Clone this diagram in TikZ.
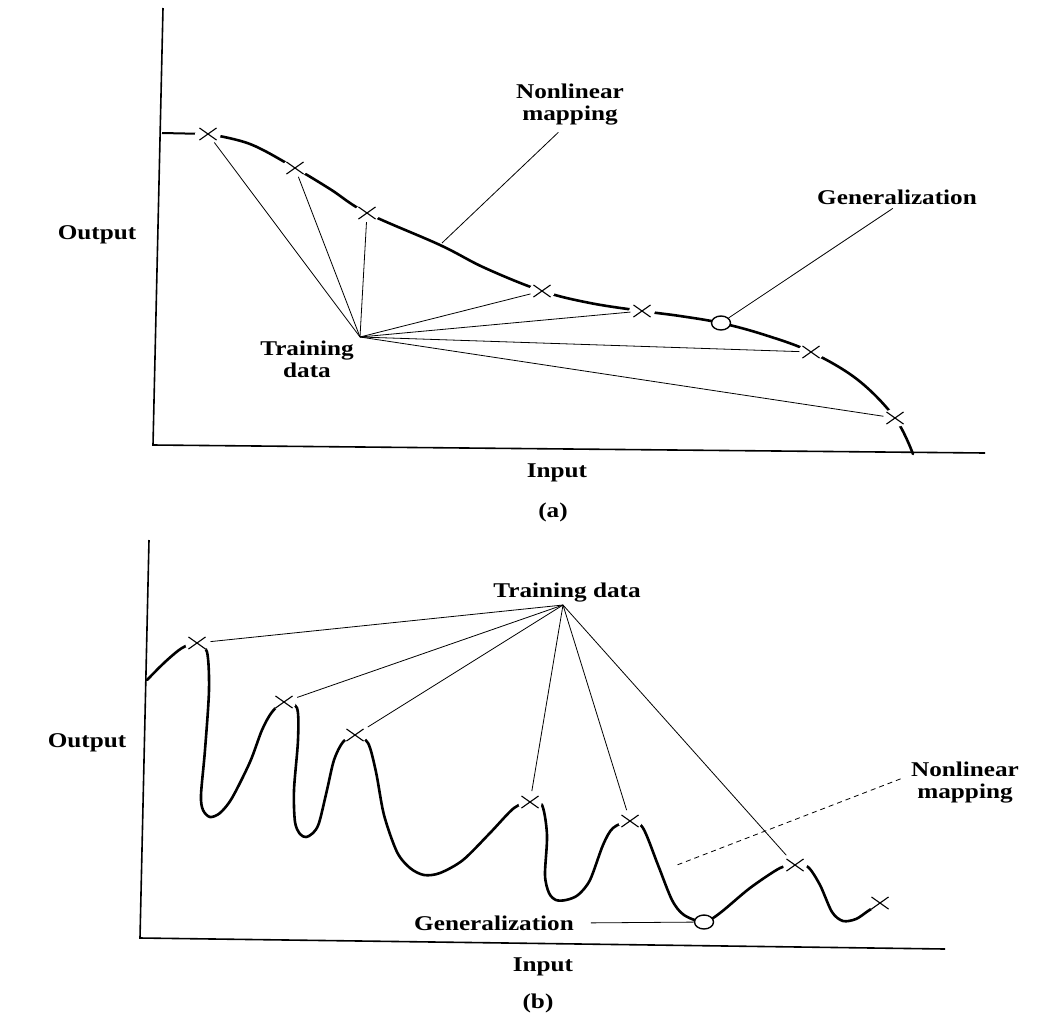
\documentclass[tikz,border=0pt]{standalone}
\usepackage{fontspec}
\setmainfont[FakeStretch=1.2]{Liberation Serif}
\usetikzlibrary{shapes.misc,shapes.geometric}
\begin{document}
\begin{tikzpicture}[x=1pt,y=-1pt,
  lbl/.style={font=\bfseries\fontsize{21}{22}\selectfont, align=center, inner sep=1pt},
  axisline/.style={line width=1.6pt, line join=miter},
  curveline/.style={line width=2.6pt, line cap=round, line join=round},
  conn/.style={line width=0.8pt},
  xmk/.style={cross out, draw, line width=1.1pt, minimum width=16pt, minimum height=11pt, inner sep=0pt},
  gpt/.style={ellipse, draw, fill=white, line width=1.4pt, minimum width=19pt, minimum height=14pt, inner sep=0pt},
  knock/.style={fill=white}
]
\useasboundingbox (0,0) rectangle (1057,1012);
\fill[white] (0,0) rectangle (1057,1012);

% ---------------- panel (a) ----------------
\coordinate (ya) at (163,8);
\coordinate (oa) at (153,445);
\coordinate (xa) at (985,453);
\draw[axisline] (ya) -- (oa) -- (xa);

\coordinate (a1) at (208,134);
\coordinate (a2) at (295,168);
\coordinate (a3) at (367,213);
\coordinate (a4) at (542,291);
\coordinate (a5) at (642,311);
\coordinate (a6) at (811,352);
\coordinate (a7) at (895,418);
\coordinate (hubA) at (360,337);
\coordinate (startA) at (162,133);

\draw[line width=2pt] (startA) -- (a1);
\draw[curveline] plot[smooth, tension=0.6] coordinates {(208,134) (250,144) (295,168) (330,189) (367,213) (440,245) (485,268) (542,291) (590,303) (642,311) (680,316) (721,323) (765,335) (811,352) (858,380) (895,418) (913,454)};

\foreach \p in {a1,a2,a3,a4,a5,a6,a7}
  \fill[knock] (\p) ellipse [x radius=13, y radius=9];

\foreach \p [count=\i] in {a1,a2,a3,a4,a5,a6,a7}
  \node[xmk] (A\i) at (\p) {};

\foreach \i in {1,...,7}
  \draw[conn, shorten >=3pt] (hubA) -- (A\i);

\node[gpt] (cA) at (721,323) {};

\node[lbl] (outA) at (97,235) {Output};
\node[lbl] (inA) at (557,473) {Input};
\node[lbl] (capA) at (553,512) {(a)};
\node[lbl] (tdA) at (307,359) {Training\\data};
\node[lbl] (nlA) at (570,105) {Nonlinear\\mapping};
\node[lbl] (gA) at (897,197) {Generalization};
\coordinate (mapA) at (442,243);
\draw[conn, shorten <=8pt] (nlA.-105) -- (mapA);
\draw[conn, shorten <=5pt] (gA.south) -- (cA);

% ---------------- panel (b) ----------------
\coordinate (yb) at (149,540);
\coordinate (ob) at (140,938);
\coordinate (xb) at (945,949);
\draw[axisline] (yb) -- (ob) -- (xb);

\coordinate (b1) at (197,643);
\coordinate (b2) at (284,702);
\coordinate (b3) at (355,735);
\coordinate (b4) at (530,802);
\coordinate (b5) at (630,821);
\coordinate (b6) at (795,865);
\coordinate (b7) at (880,903);
\coordinate (hubB) at (563,605);

\draw[curveline] plot[smooth, tension=0.5] coordinates {(147,680) (165,662) (182,648) (197,643)
  (207,652) (209,690) (205,750) (201,795) (203,810) (210,817) (220,813) (232,798) (250,762) (262,730) (272,712) (284,702)
  (297,708) (298,740) (294,790) (295,822) (300,834) (306,837) (313,833) (319,823) (327,790) (334,760) (343,742) (355,735)
  (368,743) (376,772) (384,815) (397,852) (410,868) (424,875) (440,873) (463,860) (490,833) (514,808) (530,802)
  (542,805) (547,835) (545,875) (549,893) (556,900) (566,900) (578,895) (590,880) (603,845) (613,828) (630,821)
  (643,828) (658,865) (672,900) (684,915) (704,922)
  (720,913) (750,888) (780,868) (795,865)
  (808,867) (820,885) (832,912) (843,921) (856,919) (868,911) (880,903)};

\foreach \p in {b1,b2,b3,b4,b5,b6,b7}
  \fill[knock] (\p) ellipse [x radius=12, y radius=9];

\foreach \p [count=\i] in {b1,b2,b3,b4,b5,b6,b7}
  \node[xmk] (B\i) at (\p) {};

\foreach \i in {1,...,6}
  \draw[conn, shorten >=5pt] (hubB) -- (B\i);

\node[gpt] (cB) at (704,922) {};

\node[lbl] (outB) at (87,743) {Output};
\node[lbl] (inB) at (543,967) {Input};
\node[lbl] (capB) at (538,1003) {(b)};
\node[lbl] (tdB) at (567,593) {Training data};
\node[lbl] (nlB) at (965,783) {Nonlinear\\mapping};
\node[lbl] (gB) at (494,923) {Generalization};
\coordinate (mapB) at (677,865);
\draw[conn, dash pattern=on 5pt off 4pt, shorten <=10pt] (nlB.172) -- (mapB);
\draw[conn, shorten <=16pt] (gB.east) -- (cB);
\end{tikzpicture}
\end{document}
